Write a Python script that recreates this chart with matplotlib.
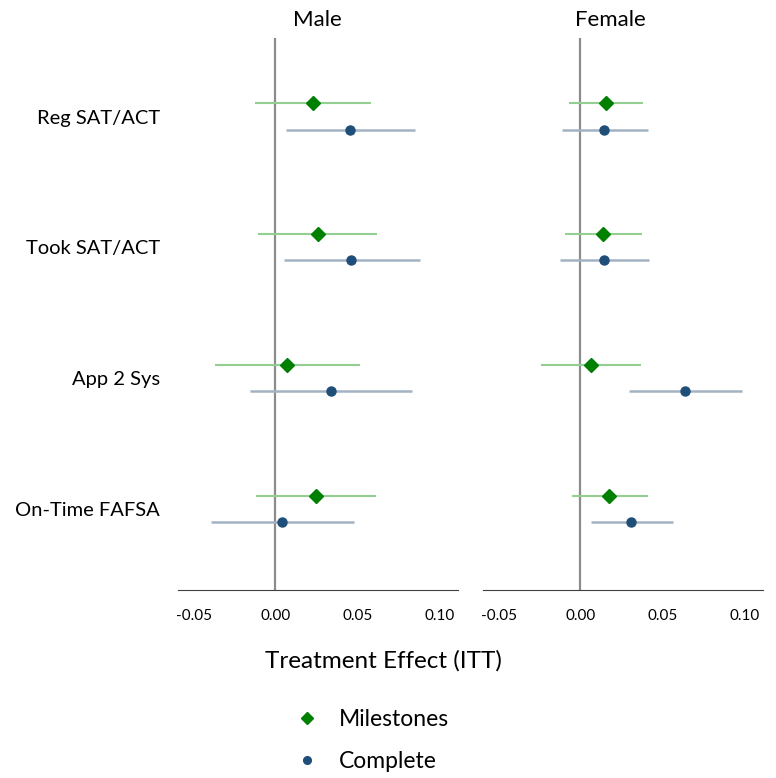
import matplotlib.pyplot as plt
import numpy as np

plt.rcParams['font.family'] = ['Lato', 'DejaVu Sans']

# Datos
categorias = ['Reg SAT/ACT', 'Took SAT/ACT', 'App 2 Sys', 'On-Time FAFSA']
paneles = ['Male', 'Female']

# Male
male_mil = [0.0232, 0.0262, 0.0069, 0.0248]
male_mil_lo = [-0.0126, -0.0104, -0.0372, -0.0120]
male_mil_hi = [0.0585, 0.0622, 0.0516, 0.0616]
male_com = [0.0457, 0.0463, 0.0337, 0.0043]
male_com_lo = [0.0063, 0.0055, -0.0157, -0.0394]
male_com_hi = [0.0854, 0.0882, 0.0833, 0.0482]

# Female
fem_mil = [0.0155, 0.0140, 0.0065, 0.0177]
fem_mil_lo = [-0.0071, -0.0093, -0.0240, -0.0051]
fem_mil_hi = [0.0382, 0.0376, 0.0368, 0.0411]
fem_com = [0.0146, 0.0146, 0.0640, 0.0309]
fem_com_lo = [-0.0113, -0.0122, 0.0295, 0.0063]
fem_com_hi = [0.0413, 0.0419, 0.0986, 0.0563]

datos = {
    'Male': (male_mil, male_mil_lo, male_mil_hi, male_com, male_com_lo, male_com_hi),
    'Female': (fem_mil, fem_mil_lo, fem_mil_hi, fem_com, fem_com_lo, fem_com_hi),
}

fig = plt.figure(figsize=(7.76, 7.78), dpi=100)
posiciones = {'Male': [0.2294, 0.2416, 0.3608, 0.7095],
              'Female': [0.6224, 0.2416, 0.3608, 0.7095]}

y = np.arange(len(categorias))
for nombre in paneles:
    ax = fig.add_axes(posiciones[nombre])
    mil, mil_lo, mil_hi, com, com_lo, com_hi = datos[nombre]
    ax.axvline(0, color='#8c8c8c', lw=1.6, zorder=1)
    ax.hlines(y - 0.1, mil_lo, mil_hi, color='#93cf91', lw=1.5, zorder=2)
    ax.hlines(y + 0.1, com_lo, com_hi, color='#a3b2c3', lw=1.8, zorder=2)
    ax.plot(mil, y - 0.1, ls='none', marker='D', ms=7, color='#008000',
            label='Milestones', zorder=3)
    ax.plot(com, y + 0.1, ls='none', marker='o', ms=6.5, color='#1f4e79',
            label='Complete', zorder=3)
    ax.set_xlim(-0.0595, 0.1115)
    ax.set_ylim(3.62, -0.6)
    ax.set_xticks([-0.05, 0.0, 0.05, 0.10])
    ax.set_xticklabels(['-0.05', '0.00', '0.05', '0.10'], fontsize=11)
    ax.tick_params(axis='x', length=0, pad=14)
    for s in ['top', 'right', 'left']:
        ax.spines[s].set_visible(False)
    ax.spines['bottom'].set_color('#404040')
    if nombre == 'Male':
        ax.set_yticks(y)
        ax.set_yticklabels(categorias, fontsize=14.5)
        ax.tick_params(axis='y', length=0, pad=13)
        handles, labels = ax.get_legend_handles_labels()
    else:
        ax.set_yticks([])

fig.text(0.409, 0.974, 'Male', ha='center', va='center', fontsize=16)
fig.text(0.786, 0.974, 'Female', ha='center', va='center', fontsize=16)
fig.text(0.494, 0.151, 'Treatment Effect (ITT)', ha='center', va='center', fontsize=17.5)

fig.legend(handles, labels, loc='center', bbox_to_anchor=(0.48, 0.048),
           frameon=False, fontsize=16.5, handletextpad=0.9, labelspacing=0.9,
           markerscale=0.85, handlelength=1.0)

fig.savefig('out.png', dpi=100)
